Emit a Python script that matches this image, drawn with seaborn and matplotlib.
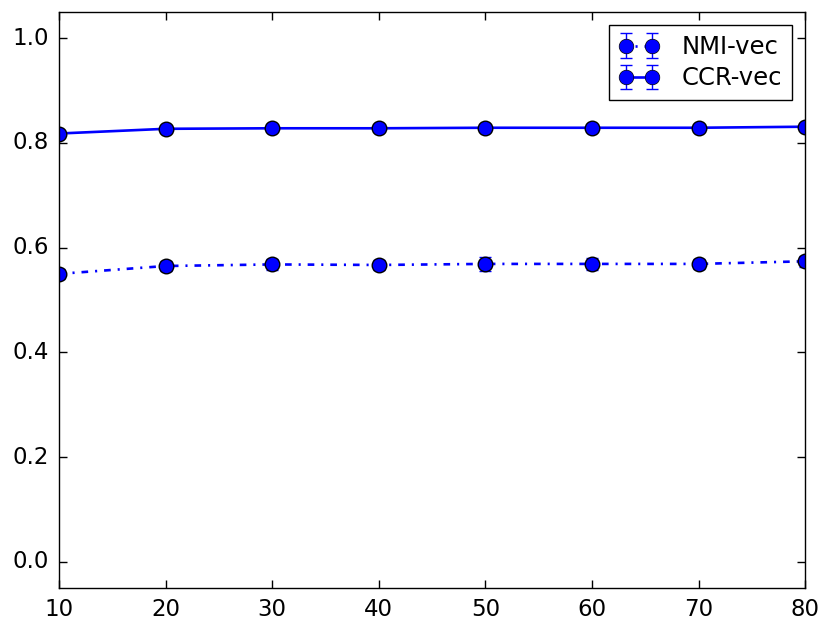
import numpy as np
import pandas as pd
import matplotlib
matplotlib.use("Agg")
import matplotlib.pyplot as plt
import seaborn as sns

# data
sizes = [10, 20, 30, 40, 50, 60, 70, 80]
nmi_mean = [0.550, 0.565, 0.568, 0.567, 0.569, 0.569, 0.569, 0.574]
nmi_err = [0.010, 0.009, 0.011, 0.010, 0.014, 0.012, 0.010, 0.010]
ccr_mean = [0.818, 0.827, 0.828, 0.828, 0.829, 0.829, 0.829, 0.831]
ccr_err = [0.004, 0.004, 0.004, 0.004, 0.004, 0.004, 0.004, 0.004]
names = ["NMI-vec", "CCR-vec"]

# old matplotlib look: black text, inward ticks on all four sides
plt.style.use("classic")
plt.rcParams["font.family"] = ["DejaVu Sans"]
plt.rcParams["font.size"] = 16.5
plt.rcParams["lines.scale_dashes"] = False

df = pd.concat([
    pd.DataFrame({"x": sizes, "y": nmi_mean, "method": names[0]}),
    pd.DataFrame({"x": sizes, "y": ccr_mean, "method": names[1]}),
])

dashdot = (4.8, 5, 1.5, 5)
lw = 1.9
ms = 10.5

fig = plt.figure(figsize=(8.3, 6.33), dpi=100)
ax = fig.add_axes([0.071, 0.071, 0.899, 0.91])

# error bars underneath
containers = []
for mean, err in [(nmi_mean, nmi_err), (ccr_mean, ccr_err)]:
    eb = ax.errorbar(sizes, mean, yerr=err, fmt="none", ecolor="b",
                     capsize=4, elinewidth=1.0, capthick=1.0, zorder=1)
    containers.append(eb)

sns.lineplot(data=df, x="x", y="y", style="method",
             dashes={names[0]: dashdot, names[1]: ""},
             color="b", marker="o", markersize=ms, markeredgecolor="k",
             markeredgewidth=1.0, linewidth=lw, legend=False, ax=ax, zorder=2)

proxies = []
for i, name in enumerate(names):
    p = plt.Line2D([], [], color="b", linewidth=lw, marker="o",
                   markersize=ms, markeredgecolor="k")
    if i == 0:
        p.set_dashes((1.5, 5))
    proxies.append((containers[i], p))

leg = ax.legend(proxies, names, loc="upper right", numpoints=2,
                fontsize=17.5, handlelength=1.7, borderaxespad=0.55,
                handletextpad=0.9, borderpad=0.4, labelspacing=0.3)
leg.get_frame().set_edgecolor("k")

ax.set_xlim(10, 80)
ax.set_ylim(-0.05, 1.05)
ax.set_xticks(sizes)
ax.set_yticks([0.0, 0.2, 0.4, 0.6, 0.8, 1.0])
ax.set_xlabel("")
ax.set_ylabel("")
ax.tick_params(top=True, right=True, direction="in", length=6, width=1,
               labelsize=16.5, pad=7, colors="k")

fig.savefig("out.png", dpi=100)
